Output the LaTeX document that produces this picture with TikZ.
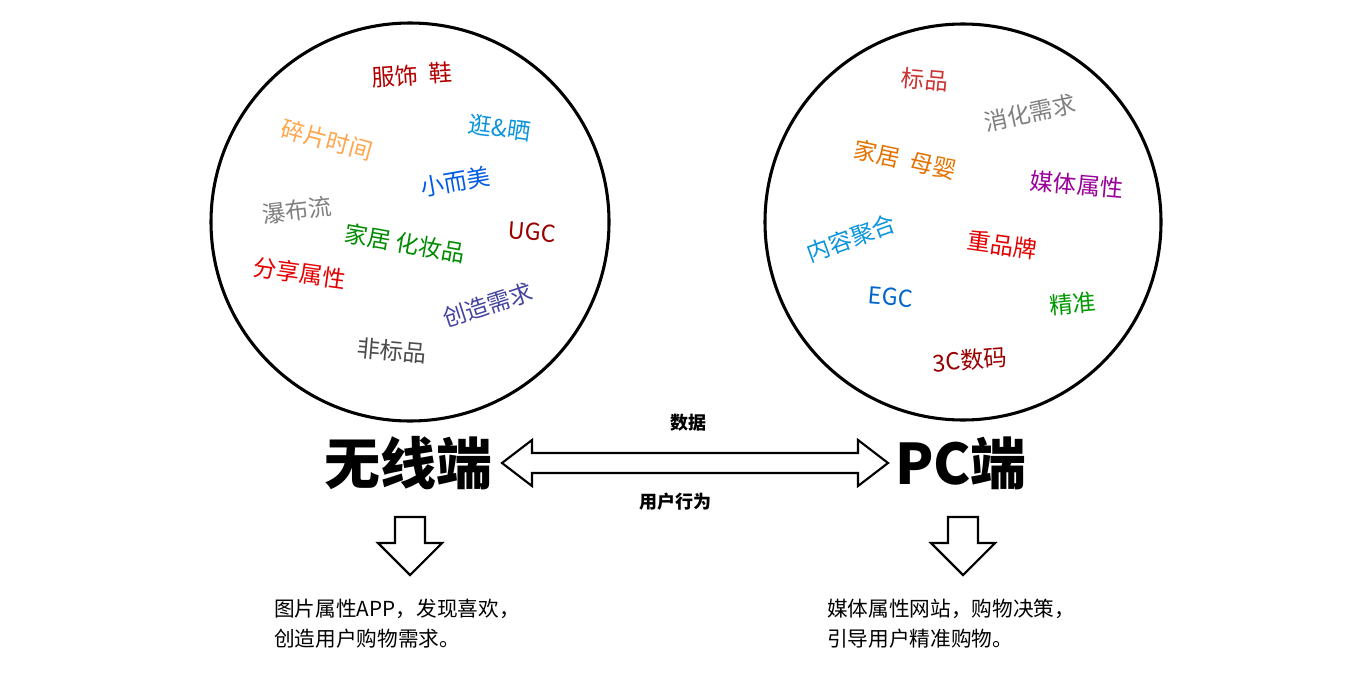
\documentclass[tikz,border=0pt]{standalone}
\usepackage{fontspec}
\setmainfont{Noto Sans CJK SC}
\begin{document}
\begin{tikzpicture}[x=0.75pt,y=0.75pt,
  w/.style={font=\fontsize{17.5}{19}\selectfont, inner sep=0pt},
  ring/.style={draw=black, line width=2.3pt},
  hollow/.style={draw=black, line width=1.6pt, fill=white},
  big/.style={font=\fontsize{42}{44}\selectfont\bfseries, inner sep=0pt},
  lab/.style={font=\fontsize{13.5}{15}\selectfont\bfseries, inner sep=0pt},
  note/.style={font=\fontsize{15.5}{22.5}\selectfont, align=left, anchor=north west, inner sep=0pt}]
\useasboundingbox (0,0) rectangle (1352,-696);
\fill[white] (0,0) rectangle (1352,-696);
\draw[ring] (410,-222) circle (199);
\draw[ring] (963,-222) circle (198);
% left words
\node[w, text=red!70!black, rotate=4] (l1) at (412,-75) {服饰 \ 鞋};
\node[w, text=orange!70!white, rotate=-15] (l2) at (327,-140) {碎片时间};
\node[w, text=cyan!80!blue, rotate=-8] (l3) at (500,-128) {逛\&晒};
\node[w, text=blue!60!cyan!90!black, rotate=10] (l4) at (455,-182) {小而美};
\node[w, text=gray, rotate=7] (l5) at (297,-210) {瀑布流};
\node[w, text=green!55!black, rotate=-10] (l6) at (405,-243) {家居 化妆品};
\node[w, text=red!60!black, rotate=-5] (l7) at (532,-232) {UGC};
\node[w, text=red!90!black, rotate=-8] (l8) at (300,-273) {分享属性};
\node[w, text=blue!40!gray!90!black, rotate=18] (l9) at (488,-305) {创造需求};
\node[w, text=black!70, rotate=-5] (l10) at (392,-351) {非标品};
% right words
\node[w, text=red!60!gray, rotate=-5] (r1) at (925,-80) {标品};
\node[w, text=gray, rotate=12] (r2) at (1030,-113) {消化需求};
\node[w, text=orange!90!black, rotate=-12] (r3) at (905,-160) {家居 \ 母婴};
\node[w, text=violet!80!magenta, rotate=-5] (r4) at (1077,-185) {媒体属性};
\node[w, text=cyan!80!blue, rotate=20] (r5) at (851,-238) {内容聚合};
\node[w, text=red!90!black, rotate=-8] (r6) at (1002,-245) {重品牌};
\node[w, text=blue!50!cyan!80!black, rotate=-5] (r7) at (891,-297) {EGC};
\node[w, text=green!60!black, rotate=5] (r8) at (1073,-304) {精准};
\node[w, text=red!60!black, rotate=5] (r9) at (970,-360) {3C数码};
% bottom
\node[big] (wx) at (408,-463) {无线端};
\node[big] (pc) at (961,-463) {PC端};
\draw[hollow, line join=miter]
  (502,-463) -- (532,-440) -- (532,-453) -- (858,-453) -- (858,-440) -- (888,-463)
  -- (858,-486) -- (858,-473) -- (532,-473) -- (532,-486) -- cycle;
\node[lab] (sj) at (688,-423) {数据};
\node[lab] (yh) at (675,-502) {用户行为};
\foreach \cx in {410,963}{
\draw[hollow, line join=miter]
  (\cx-15,-517) -- (\cx+15,-517) -- (\cx+15,-543) -- (\cx+32,-543) -- (\cx,-575)
  -- (\cx-32,-543) -- (\cx-15,-543) -- cycle;}
\node[note] (n1) at (274,-599) {图片属性APP，发现喜欢，\\创造用户购物需求。};
\node[note] (n2) at (827,-599) {媒体属性网站，购物决策，\\引导用户精准购物。};
\end{tikzpicture}
\end{document}
